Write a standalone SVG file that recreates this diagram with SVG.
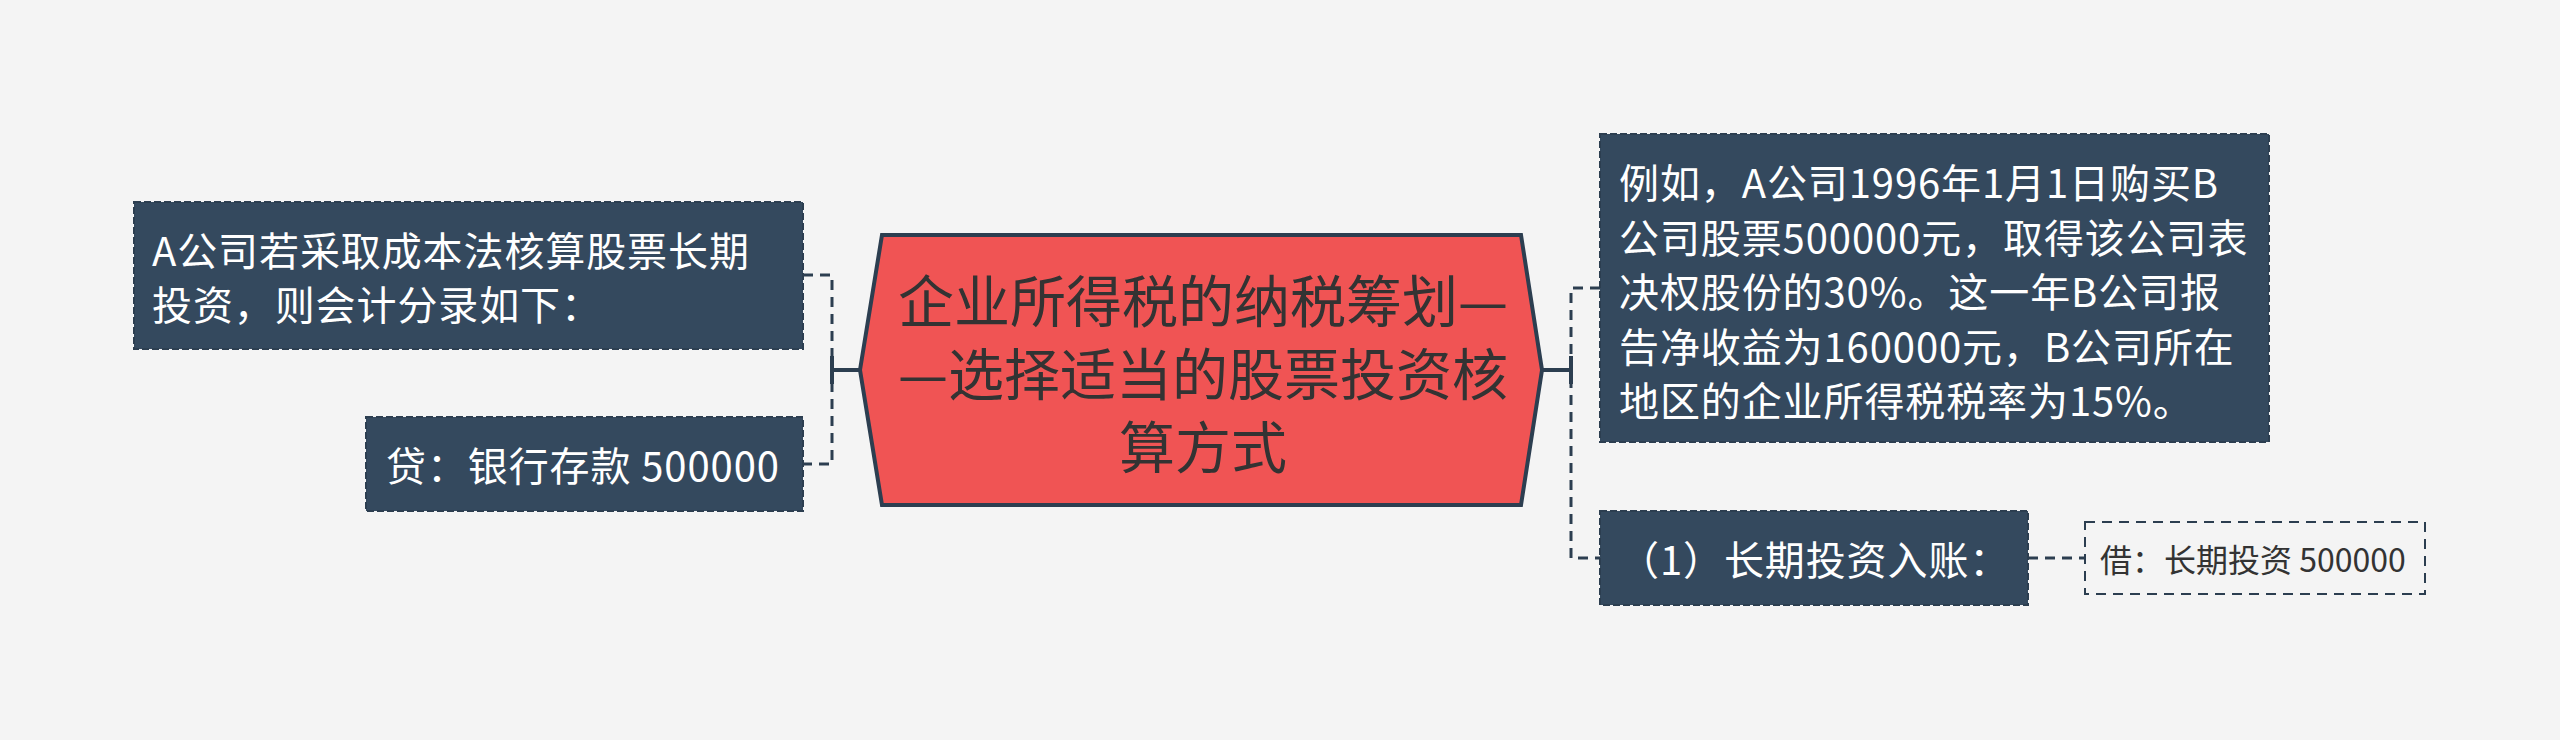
<svg xmlns="http://www.w3.org/2000/svg" width="2560" height="740" viewBox="0 0 2560 740">
<style>
.bg{fill:#f4f4f4}
.box{fill:#34495e;stroke:#2c3e50;stroke-width:2;stroke-dasharray:7 3}
.lbl{fill:#ffffff;font-family:"Noto Sans CJK SC","Noto Sans",sans-serif;font-size:40px;letter-spacing:0.9px;dominant-baseline:central}
.leaf{fill:none;stroke:#2c3e50;stroke-width:2;stroke-dasharray:10 7}
.leaftxt{fill:#333333;font-family:"Noto Sans CJK SC","Noto Sans",sans-serif;font-size:32px;dominant-baseline:central}
.main{fill:#f05454;stroke:#2c3e50;stroke-width:4;stroke-linejoin:miter}
.maintxt{fill:#333333;font-family:"Noto Sans CJK SC","Noto Sans",sans-serif;font-size:56px;text-anchor:middle;dominant-baseline:central}
.solid{fill:none;stroke:#2c3e50;stroke-width:4}
.dash{fill:none;stroke:#2c3e50;stroke-width:3;stroke-dasharray:10 7}
</style>
<rect class="bg" x="0" y="0" width="2560" height="740"/>
<g id="connectors">
<path class="solid" d="M860 370 H832 M832 356 V384"/>
<path class="dash" d="M803 275 H832 V464 H803"/>
<path class="solid" d="M1542 370 H1571 M1571 356 V384"/>
<path class="dash" d="M1600 288 H1571 V558 H1600"/>
<path class="dash" d="M2028 558 H2085"/>
</g>
<g id="center">
<polygon class="main" points="882,235 1521,235 1542,370 1521,505 882,505 860,370"/>
<text class="maintxt" x="1203" y="297">企业所得税的纳税筹划—</text>
<text class="maintxt" x="1203" y="370">—选择适当的股票投资核</text>
<text class="maintxt" x="1203" y="443">算方式</text>
</g>
<g id="left1">
<rect class="box" x="134" y="202" width="669" height="147"/>
<text class="lbl" x="152" y="249">A公司若采取成本法核算股票长期</text>
<text class="lbl" x="152" y="303">投资，则会计分录如下：</text>
</g>
<g id="left2">
<rect class="box" x="366" y="417" width="437" height="94"/>
<text class="lbl" x="386" y="464">贷：银行存款 500000</text>
</g>
<g id="right1">
<rect class="box" x="1600" y="134" width="669" height="308"/>
<text class="lbl" x="1619" y="181">例如，A公司1996年1月1日购买B</text>
<text class="lbl" x="1619" y="236">公司股票500000元，取得该公司表</text>
<text class="lbl" x="1619" y="290">决权股份的30%。这一年B公司报</text>
<text class="lbl" x="1619" y="345">告净收益为160000元，B公司所在</text>
<text class="lbl" x="1619" y="399">地区的企业所得税税率为15%。</text>
</g>
<g id="right2">
<rect class="box" x="1600" y="511" width="428" height="94"/>
<text class="lbl" x="1619" y="558">（1）长期投资入账：</text>
</g>
<g id="right3">
<rect class="leaf" x="2085" y="522" width="340" height="72"/>
<text class="leaftxt" x="2100" y="558">借：长期投资 500000</text>
</g>
</svg>
